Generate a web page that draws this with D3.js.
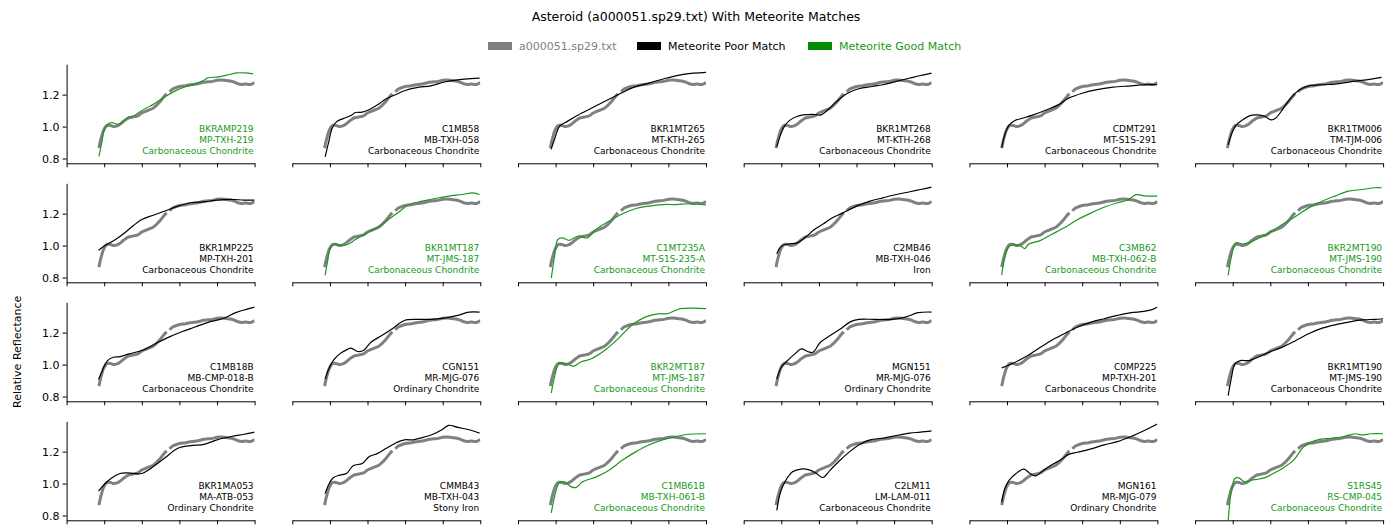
<!DOCTYPE html>
<html>
<head>
<meta charset="utf-8">
<script src="https://cdn.jsdelivr.net/npm/d3@7"></script>
<style>
  body { margin: 0; background: #fff; }
  text { font-family: "DejaVu Sans", sans-serif; }
</style>
</head>
<body>
<div id="chart"></div>
<script>
var xTicks = [0, 0.5, 1.0, 1.5, 2.0, 2.5],
    yTicks = [0.8, 1.0, 1.2];

// asteroid spectrum (two segments, gap near 1.35 um)
var asteroidVis = [[0.43,0.865],[0.45,0.91],[0.47,0.945],[0.49,0.975],[0.52,1.0],[0.55,1.008],[0.59,1.006],[0.63,1.0],[0.67,1.004],[0.71,1.015],[0.75,1.03],[0.79,1.045],[0.83,1.055],[0.87,1.058],[0.91,1.062],[0.95,1.068],[1.0,1.085],[1.05,1.095],[1.10,1.105],[1.15,1.115],[1.20,1.135],[1.25,1.16],[1.30,1.19],[1.33,1.205]];
var asteroidNir = [[1.37,1.218],[1.41,1.235],[1.46,1.245],[1.52,1.252],[1.58,1.255],[1.64,1.262],[1.70,1.265],[1.76,1.27],[1.82,1.277],[1.88,1.28],[1.94,1.283],[2.0,1.29],[2.06,1.292],[2.12,1.288],[2.18,1.285],[2.23,1.278],[2.28,1.268],[2.33,1.264],[2.38,1.267],[2.43,1.263],[2.47,1.268],[2.5,1.276]];

var meteoriteNames = ["BKRAMP219","C1MB58","BKR1MT265","BKR1MT268","CDMT291","BKR1TM006",
                      "BKR1MP225","BKR1MT187","C1MT235A","C2MB46","C3MB62","BKR2MT190",
                      "C1MB18B","CGN151","BKR2MT187","MGN151","C0MP225","BKR1MT190",
                      "BKR1MA053","CMMB43","C1MB61B","C2LM11","MGN161","S1RS45"];
var meteoriteIds = ["MP-TXH-219","MB-TXH-058","MT-KTH-265","MT-KTH-268","MT-S1S-291","TM-TJM-006",
                    "MP-TXH-201","MT-JMS-187","MT-S1S-235-A","MB-TXH-046","MB-TXH-062-B","MT-JMS-190",
                    "MB-CMP-018-B","MR-MJG-076","MT-JMS-187","MR-MJG-076","MP-TXH-201","MT-JMS-190",
                    "MA-ATB-053","MB-TXH-043","MB-TXH-061-B","LM-LAM-011","MR-MJG-079","RS-CMP-045"];
var meteoriteTypes = ["Carbonaceous Chondrite","Carbonaceous Chondrite","Carbonaceous Chondrite","Carbonaceous Chondrite","Carbonaceous Chondrite","Carbonaceous Chondrite",
                      "Carbonaceous Chondrite","Carbonaceous Chondrite","Carbonaceous Chondrite","Iron","Carbonaceous Chondrite","Carbonaceous Chondrite",
                      "Carbonaceous Chondrite","Ordinary Chondrite","Carbonaceous Chondrite","Ordinary Chondrite","Carbonaceous Chondrite","Carbonaceous Chondrite",
                      "Ordinary Chondrite","Stony Iron","Carbonaceous Chondrite","Carbonaceous Chondrite","Ordinary Chondrite","Carbonaceous Chondrite"];
var goodMatch = [1,0,0,0,0,0, 0,1,1,0,1,1, 0,0,1,0,0,0, 0,0,1,0,0,1];

var meteoriteSpectra = [
  [[0.43,0.813],[0.467,0.896],[0.50,0.979],[0.546,1.015],[0.60,1.025],[0.657,1.017],[0.70,1.015],[0.754,1.031],[0.82,1.058],[0.887,1.066],[0.976,1.093],[1.065,1.118],[1.153,1.139],[1.24,1.166],[1.33,1.193],[1.44,1.222],[1.55,1.245],[1.685,1.263],[1.82,1.288],[1.88,1.306],[2.0,1.31],[2.13,1.322],[2.26,1.336],[2.37,1.336],[2.48,1.33]],
  [[0.437,0.81],[0.485,0.906],[0.53,0.99],[0.59,1.031],[0.69,1.052],[0.78,1.069],[0.84,1.088],[0.93,1.09],[1.02,1.105],[1.135,1.136],[1.25,1.174],[1.37,1.199],[1.49,1.224],[1.67,1.245],[1.84,1.255],[2.02,1.279],[2.20,1.293],[2.38,1.30],[2.49,1.304]],
  [[0.44,0.857],[0.49,0.927],[0.55,1.0],[0.65,1.031],[0.80,1.073],[0.975,1.115],[1.15,1.157],[1.33,1.199],[1.51,1.241],[1.74,1.272],[1.98,1.304],[2.22,1.329],[2.5,1.34]],
  [[0.44,0.874],[0.49,0.948],[0.547,1.006],[0.62,1.042],[0.706,1.063],[0.79,1.073],[0.92,1.077],[1.03,1.073],[1.12,1.105],[1.235,1.157],[1.38,1.209],[1.53,1.237],[1.71,1.251],[1.85,1.262],[2.03,1.283],[2.21,1.304],[2.35,1.32],[2.5,1.335]],
  [[0.43,0.868],[0.47,0.948],[0.53,1.01],[0.606,1.038],[0.706,1.052],[0.85,1.073],[1.03,1.105],[1.18,1.136],[1.32,1.178],[1.5,1.209],[1.68,1.23],[1.91,1.247],[2.15,1.255],[2.32,1.262],[2.5,1.262]],
  [[0.44,0.885],[0.48,0.948],[0.54,1.006],[0.63,1.042],[0.73,1.069],[0.83,1.073],[0.93,1.063],[1.01,1.042],[1.07,1.052],[1.16,1.105],[1.27,1.178],[1.39,1.23],[1.51,1.255],[1.69,1.262],[1.86,1.266],[2.1,1.283],[2.28,1.293],[2.48,1.308]],
  [[0.425,0.971],[0.53,1.006],[0.65,1.038],[0.77,1.079],[0.89,1.126],[1.0,1.163],[1.15,1.19],[1.30,1.215],[1.48,1.247],[1.65,1.268],[1.83,1.274],[2.0,1.285],[2.19,1.289],[2.36,1.285],[2.5,1.285]],
  [[0.437,0.814],[0.47,0.902],[0.51,0.99],[0.57,1.01],[0.66,1.0],[0.75,1.01],[0.84,1.038],[0.96,1.069],[1.075,1.10],[1.19,1.132],[1.31,1.174],[1.43,1.215],[1.55,1.257],[1.73,1.278],[1.90,1.295],[2.08,1.31],[2.26,1.32],[2.40,1.33],[2.49,1.32]],
  [[0.443,0.797],[0.49,0.944],[0.53,1.038],[0.59,1.048],[0.68,1.033],[0.80,1.059],[0.92,1.048],[1.03,1.10],[1.21,1.153],[1.39,1.199],[1.57,1.232],[1.74,1.247],[1.92,1.257],[2.1,1.257],[2.28,1.262],[2.5,1.255]],
  [[0.44,0.948],[0.5,0.996],[0.59,1.01],[0.71,1.017],[0.82,1.052],[0.94,1.10],[1.06,1.136],[1.18,1.174],[1.32,1.205],[1.5,1.247],[1.68,1.278],[1.85,1.299],[2.03,1.32],[2.21,1.337],[2.35,1.351],[2.5,1.366]],
  [[0.43,0.814],[0.47,0.923],[0.53,0.996],[0.62,1.006],[0.69,0.996],[0.735,0.981],[0.79,1.01],[0.94,1.031],[1.09,1.069],[1.26,1.111],[1.44,1.163],[1.62,1.205],[1.79,1.24],[1.97,1.268],[2.12,1.289],[2.21,1.318],[2.35,1.31],[2.5,1.31]],
  [[0.44,0.814],[0.48,0.923],[0.54,1.017],[0.63,1.01],[0.72,1.017],[0.81,1.038],[0.98,1.079],[1.16,1.132],[1.34,1.184],[1.51,1.236],[1.69,1.278],[1.86,1.31],[2.04,1.341],[2.22,1.351],[2.39,1.362],[2.48,1.362]],
  [[0.425,0.906],[0.485,0.973],[0.544,1.025],[0.62,1.046],[0.71,1.05],[0.83,1.067],[1.0,1.088],[1.18,1.13],[1.36,1.172],[1.54,1.207],[1.71,1.235],[1.89,1.266],[2.07,1.287],[2.25,1.325],[2.39,1.346],[2.5,1.36]],
  [[0.437,0.91],[0.485,0.973],[0.544,1.025],[0.63,1.067],[0.72,1.092],[0.78,1.103],[0.87,1.082],[0.946,1.088],[1.046,1.14],[1.19,1.182],[1.34,1.228],[1.49,1.276],[1.67,1.283],[1.84,1.283],[2.02,1.291],[2.2,1.308],[2.35,1.329],[2.49,1.329]],
  [[0.443,0.822],[0.49,0.931],[0.55,1.01],[0.65,1.004],[0.74,0.99],[0.83,1.015],[0.975,1.036],[1.15,1.088],[1.33,1.161],[1.51,1.245],[1.69,1.297],[1.86,1.318],[1.98,1.318],[2.16,1.35],[2.33,1.354],[2.5,1.35]],
  [[0.44,0.91],[0.5,0.983],[0.57,1.019],[0.68,1.067],[0.765,1.098],[0.85,1.082],[0.92,1.077],[1.02,1.14],[1.15,1.182],[1.29,1.224],[1.41,1.266],[1.53,1.283],[1.74,1.283],[1.97,1.283],[2.15,1.297],[2.32,1.325],[2.5,1.329]],
  [[0.43,0.979],[0.56,1.004],[0.735,1.046],[0.91,1.098],[1.09,1.151],[1.26,1.193],[1.44,1.235],[1.62,1.266],[1.79,1.287],[1.97,1.308],[2.15,1.325],[2.32,1.333],[2.44,1.346],[2.5,1.36]],
  [[0.44,0.805],[0.48,0.91],[0.53,1.004],[0.6,1.025],[0.72,1.025],[0.835,1.046],[0.98,1.077],[1.16,1.109],[1.34,1.151],[1.51,1.193],[1.69,1.228],[1.86,1.249],[2.04,1.266],[2.22,1.28],[2.39,1.283],[2.5,1.287]],
  [[0.425,0.952],[0.5,0.994],[0.59,1.032],[0.71,1.063],[0.8,1.067],[0.89,1.063],[1.0,1.063],[1.12,1.095],[1.3,1.158],[1.48,1.221],[1.65,1.238],[1.83,1.246],[2.0,1.274],[2.19,1.295],[2.36,1.309],[2.5,1.322]],
  [[0.437,0.937],[0.485,0.994],[0.544,1.036],[0.63,1.053],[0.72,1.063],[0.81,1.112],[0.93,1.126],[1.02,1.168],[1.135,1.189],[1.25,1.221],[1.37,1.253],[1.49,1.274],[1.61,1.274],[1.73,1.288],[1.87,1.309],[1.99,1.337],[2.08,1.365],[2.2,1.352],[2.35,1.337],[2.49,1.316]],
  [[0.443,0.817],[0.49,0.926],[0.55,1.006],[0.62,1.011],[0.71,0.979],[0.77,0.975],[0.86,1.011],[1.04,1.042],[1.21,1.084],[1.39,1.147],[1.57,1.2],[1.74,1.242],[1.92,1.274],[2.1,1.295],[2.28,1.309],[2.5,1.312]],
  [[0.44,0.832],[0.49,0.947],[0.56,1.021],[0.65,1.074],[0.76,1.091],[0.88,1.084],[0.97,1.063],[1.05,1.038],[1.15,1.084],[1.26,1.137],[1.41,1.2],[1.53,1.242],[1.68,1.274],[1.85,1.284],[2.03,1.301],[2.21,1.316],[2.35,1.322],[2.5,1.33]],
  [[0.43,0.884],[0.47,0.968],[0.53,1.021],[0.62,1.063],[0.725,1.091],[0.806,1.063],[0.88,1.048],[0.97,1.078],[1.09,1.116],[1.21,1.147],[1.32,1.183],[1.44,1.196],[1.62,1.217],[1.79,1.242],[1.97,1.263],[2.15,1.295],[2.32,1.331],[2.5,1.373]],
  [[0.43,0.70],[0.48,0.947],[0.53,1.032],[0.58,1.036],[0.66,1.011],[0.75,1.021],[0.83,1.027],[0.92,1.036],[1.04,1.063],[1.16,1.095],[1.31,1.147],[1.45,1.232],[1.63,1.274],[1.81,1.284],[1.98,1.295],[2.13,1.312],[2.22,1.305],[2.34,1.312],[2.5,1.312]]
];

var W = 1392, H = 526,
    nCols = 6, nRows = 4,
    padLeft = 66.6, padTop = 64.3,
    panelW = 188, panelH = 99,
    gapX = 37.7, gapY = 20,
    green = "#18991a", gray = "#808080";

var svg = d3.select("#chart").append("svg")
  .attr("width", W)
  .attr("height", H);

svg.append("text")
  .attr("x", W / 2)
  .attr("y", 21)
  .attr("text-anchor", "middle")
  .style("font-size", "12.5px")
  .text("Asteroid (a000051.sp29.txt) With Meteorite Matches");

// legend
var legendItems = [
  {label: "a000051.sp29.txt", color: gray, text: gray, x: 488},
  {label: "Meteorite Poor Match", color: "black", text: "black", x: 637},
  {label: "Meteorite Good Match", color: "#008c00", text: green, x: 808}
];
var legend = svg.selectAll("g.legend")
  .data(legendItems)
  .enter().append("g")
  .attr("class", "legend")
  .attr("transform", function (d) { return "translate(" + d.x + ",46)"; });
legend.append("rect")
  .attr("x", 0).attr("y", -4)
  .attr("width", 24).attr("height", 8)
  .attr("fill", function (d) { return d.color; });
legend.append("text")
  .attr("x", 31).attr("y", 4)
  .style("font-size", "11px")
  .attr("fill", function (d) { return d.text; })
  .text(function (d) { return d.label; });

var x = d3.scaleLinear().domain([0, 2.5]).range([0, panelW]);
var y = d3.scaleLinear().domain([0.77, 1.39]).range([panelH, 0]);

var line = d3.line()
  .x(function (d) { return x(d[0]); })
  .y(function (d) { return y(d[1]); })
  .curve(d3.curveCatmullRom);

svg.append("defs").append("clipPath")
  .attr("id", "clip")
  .append("rect")
  .attr("width", panelW).attr("height", panelH);

meteoriteSpectra.forEach(function (spec, i) {
  var col = i % nCols, row = Math.floor(i / nCols);
  var g = svg.append("g")
    .attr("transform", "translate(" + (padLeft + col * (panelW + gapX)) + "," + (padTop + row * (panelH + gapY)) + ")");
  var c = goodMatch[i] ? green : "black";

  var plot = g.append("g").attr("clip-path", "url(#clip)");
  [asteroidVis, asteroidNir].forEach(function (seg) {
    plot.append("path")
      .datum(seg)
      .attr("d", line)
      .attr("fill", "none")
      .attr("stroke", gray)
      .attr("stroke-width", 3);
  });
  plot.append("path")
    .datum(spec)
    .attr("d", line)
    .attr("fill", "none")
    .attr("stroke", c)
    .attr("stroke-width", 1.2);

  var xa = g.append("g")
    .attr("transform", "translate(0," + panelH + ")")
    .call(d3.axisBottom(x).tickValues(xTicks).tickFormat("").tickSize(4).tickSizeOuter(0));
  xa.select(".domain").attr("stroke-width", 1);

  if (col === 0) {
    var ya = g.append("g")
      .call(d3.axisLeft(y).tickValues(yTicks).tickFormat(d3.format(".1f")).tickSize(4).tickPadding(3).tickSizeOuter(0));
    ya.selectAll("text").style("font-size", "11px").style("font-family", "DejaVu Sans");
  }

  var lines = [meteoriteNames[i], meteoriteIds[i], meteoriteTypes[i]];
  g.selectAll("text.lbl")
    .data(lines)
    .enter().append("text")
    .attr("class", "lbl")
    .attr("x", panelW - 1)
    .attr("y", function (d, k) { return panelH - 9.5 - (2 - k) * 10.8; })
    .attr("text-anchor", "end")
    .style("font-size", "9px")
    .attr("fill", c)
    .text(function (d) { return d; });
});

svg.append("text")
  .attr("transform", "translate(21," + (padTop + 2 * (panelH + gapY) + panelH / 2) + ") rotate(-90)")
  .attr("text-anchor", "middle")
  .style("font-size", "11px")
  .text("Relative Reflectance");
</script>
</body>
</html>
